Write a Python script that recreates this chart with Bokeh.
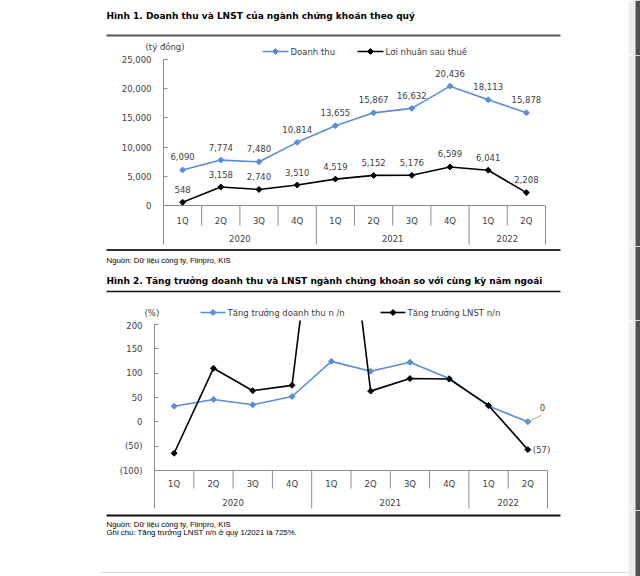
import math
from bokeh.plotting import figure
from bokeh.models import (Range1d, FixedTicker, NumeralTickFormatter, LabelSet, ColumnDataSource)
from bokeh.layouts import column
from bokeh.embed import file_html
from bokeh.resources import INLINE
from bokeh.core.properties import value

# ---------------- data ----------------
quarters = ["1Q", "2Q", "3Q", "4Q", "1Q", "2Q", "3Q", "4Q", "1Q", "2Q"]
years = ["2020", "2021", "2022"]
quarters_per_year = [4, 4, 2]
revenue = [6090, 7774, 7480, 10814, 13655, 15867, 16632, 20436, 18113, 15878]
profit = [548, 3158, 2740, 3510, 4519, 5152, 5176, 6599, 6041, 2208]
revenue_growth = [32, 46, 35, 52, 124.2, 104.1, 122.4, 89.0, 32.6, 0.07]
profit_growth = [-64.5, 110, 64, 75, 725, 63.1, 88.9, 88.0, 33.7, -57.1]
y1_ticks = [0, 5000, 10000, 15000, 20000, 25000]
y2_ticks = [-100, -50, 0, 50, 100, 150, 200]

title1 = "Hình 1. Doanh thu và LNST của ngành chứng khoán theo quý"
title2 = "Hình 2. Tăng trưởng doanh thu và LNST ngành chứng khoán so với cùng kỳ năm ngoái"
unit1 = "(tỷ đồng)"
unit2 = "(%)"
legend1 = ["Doanh thu", "Lợi nhuận sau thuế"]
legend2 = ["Tăng trưởng doanh thu n /n", "Tăng trưởng LNST n/n"]
source_note = "Nguồn: Dữ liệu công ty, Fiinpro, KIS"
growth_note = "Ghi chú: Tăng trưởng LNST n/n ở quý 1/2021 là {:.0f}%."

# ---------------- styles ----------------
BLUE = "#5B8CD4"
BLACK = "#000000"
AXIS = "#8C8C8C"
TXT = "#404040"
FONT = "DejaVu Sans"
NOTE_FONT = "Liberation Sans"
FS = "8.5px"
NOTE_FS = "7.8px"
W = 640
X0 = 95          # common left edge of every plot frame
STRIP_L, STRIP_M = 628, 635
STRIP_COLORS = ["#EDEDED", "#505050"]


def fmt_paren(v):
    r = int(round(v))
    return "({:,})".format(-r) if r < 0 else "{:,}".format(r)


def base_fig(height, x_range, y_range):
    p = figure(width=W, height=height, output_backend="svg", toolbar_location=None, tools="",
               x_axis_location=None, y_axis_location=None,
               min_border_left=X0, min_border_right=0, min_border_top=0, min_border_bottom=0,
               x_range=x_range, y_range=y_range)
    p.outline_line_color = None
    p.grid.visible = False
    p.background_fill_color = "white"
    p.border_fill_color = "white"
    return p


def deco_fig(top, bottom):
    p = base_fig(bottom - top, Range1d(X0, W), Range1d(bottom, top))
    p.quad(left=[STRIP_L, STRIP_M], right=[STRIP_M, W], top=[top, top], bottom=[bottom, bottom],
           fill_color=STRIP_COLORS, line_color=None)
    return p


def txt(p, x, y, text, font=FONT, size=FS, color=TXT, bold=False, align="left"):
    p.text(x=[x], y=[y], text=[text], text_align=align, text_baseline="middle",
           text_font=value(font), text_font_size=value(size), text_color=color,
           text_font_style="bold" if bold else "normal")


def rule(p, x0, x1, y, color, width):
    p.segment(x0=[x0], y0=[y], x1=[x1], y1=[y], line_color=color, line_width=width)


def marker(p, xs, ys, color):
    return p.scatter(xs, ys, marker="square", angle=math.pi / 4, size=4.2,
                     fill_color=color, line_color=color)


def legend_key(p, x0, x1, y, color, text):
    p.segment(x0=[x0], y0=[y], x1=[x1], y1=[y], line_color=color, line_width=1.6)
    marker(p, [(x0 + x1) / 2], [y], color)
    txt(p, x1 + 2, y, text)


def chart_fig(top, bottom, L, R_cat, top_y, base_y, base_val, top_val, ticks, axis_bottom_y):
    n = len(quarters)
    ppu = (base_y - top_y) / (top_val - base_val)
    cw = (R_cat - L) / n

    def val_at(Y):
        return base_val + (base_y - Y) / ppu

    def x_at(X):
        return (X - L) / cw

    p = base_fig(bottom - top, Range1d(x_at(X0), x_at(W)), Range1d(val_at(bottom), val_at(top)))
    from bokeh.models import LinearAxis
    ax = LinearAxis(ticker=FixedTicker(ticks=ticks))
    p.add_layout(ax, "left")
    ax.fixed_location = 0
    ax.bounds = (val_at(axis_bottom_y), top_val)
    ax.axis_line_color = AXIS
    ax.major_tick_line_color = AXIS
    ax.major_tick_in = 4
    ax.major_tick_out = 0
    ax.minor_tick_in = 0
    ax.minor_tick_out = 0
    ax.major_label_text_font = FONT
    ax.major_label_text_font_size = FS
    ax.major_label_text_color = TXT
    ax.major_label_standoff = 12
    # category axis baseline
    p.segment(x0=[0], y0=[base_val], x1=[n], y1=[base_val], line_color=AXIS, line_width=1)
    # page edge strip
    p.quad(left=[x_at(STRIP_L), x_at(STRIP_M)], right=[x_at(STRIP_M), x_at(W)],
           top=[val_at(top)] * 2, bottom=[val_at(bottom)] * 2,
           fill_color=STRIP_COLORS, line_color=None)
    return p, ax, n


def add_category_axis(p, n, base_val, short_len, tall_len, q_off, y_off):
    centers = [i + 0.5 for i in range(n)]
    bounds = []
    year_centers = []
    acc = 0
    for s in quarters_per_year:
        year_centers.append(acc + s / 2)
        acc += s
        bounds.append(acc)
    sep_x = list(range(1, n + 1))
    sep_len = [tall_len if b in bounds else short_len for b in sep_x]
    p.ray(x=sep_x, y=[base_val] * len(sep_x), length=sep_len, length_units="screen",
          angle=-math.pi / 2, line_color=AXIS, line_width=1)
    p.text(x=centers, y=[base_val] * n, text=quarters, y_offset=q_off,
           text_align="center", text_baseline="middle",
           text_font=value(FONT), text_font_size=value(FS), text_color=TXT)
    p.text(x=year_centers, y=[base_val] * len(years), text=years, y_offset=y_off,
           text_align="center", text_baseline="middle",
           text_font=value(FONT), text_font_size=value(FS), text_color=TXT)
    return centers


def series(p, xs, ys, color):
    p.line(xs, ys, line_color=color, line_width=1.6)
    marker(p, xs, ys, color)


# ---------------- header 1 ----------------
h1 = deco_fig(0, 55)
txt(h1, 106, 15.5, title1, size="9px", color="#000000", bold=True)
rule(h1, 106, 560, 35, "#555555", 2)
txt(h1, 145, 46, unit1)
legend_key(h1, 262, 288, 51, BLUE, legend1[0])
legend_key(h1, 357, 383, 51, BLACK, legend1[1])

# ---------------- chart 1 ----------------
p1, ax1, n = chart_fig(55, 246, 163, 545, 59, 205, 0, 25000, y1_ticks, 244)
ax1.formatter = NumeralTickFormatter(format="0,0")
xs = add_category_axis(p1, n, 0, 20, 39, 15, 33)
series(p1, xs, revenue, BLUE)
series(p1, xs, profit, BLACK)
src1 = ColumnDataSource(dict(x=xs, rev=revenue, pro=profit,
                             rev_t=[fmt_paren(v) for v in revenue],
                             pro_t=[fmt_paren(v) for v in profit]))
for col, tcol in (("rev", "rev_t"), ("pro", "pro_t")):
    p1.add_layout(LabelSet(x="x", y=col, text=tcol, source=src1, y_offset=13,
                           text_align="center", text_baseline="middle",
                           text_font=value(FONT), text_font_size=value(FS), text_color=value(TXT)))

# ---------------- footer 1 + header 2 ----------------
m = deco_fig(246, 320)
rule(m, 106, 560, 249.5, "#333333", 2)
txt(m, 106, 260, source_note, font=NOTE_FONT, size=NOTE_FS, color="#000000")
txt(m, 106, 280.5, title2, size="9px", color="#000000", bold=True)
rule(m, 106, 560, 291, "#111111", 1.5)
txt(m, 144, 312, unit2)
legend_key(m, 200, 225, 312, BLUE, legend2[0])
legend_key(m, 380, 405, 312, BLACK, legend2[1])

# ---------------- chart 2 ----------------
p2, ax2, n = chart_fig(320, 510, 154, 547, 324, 470, -100, 200, y2_ticks, 508)
ax2.major_label_overrides = {t: fmt_paren(t) for t in y2_ticks}
xs2 = add_category_axis(p2, n, -100, 18, 38, 13.5, 31.5)
series(p2, xs2, revenue_growth, BLUE)
series(p2, xs2, profit_growth, BLACK)
p2.ray(x=[xs2[-1]], y=[revenue_growth[-1]], length=15, length_units="screen",
       angle=0.45, line_color="#A6A6A6", line_width=1)
src2a = ColumnDataSource(dict(x=[xs2[-1]], y=[revenue_growth[-1]], t=[fmt_paren(revenue_growth[-1])]))
src2b = ColumnDataSource(dict(x=[xs2[-1]], y=[profit_growth[-1]], t=[fmt_paren(profit_growth[-1])]))
p2.add_layout(LabelSet(x="x", y="y", text="t", source=src2a, x_offset=14.5, y_offset=14,
                       text_align="center", text_baseline="middle",
                       text_font=value(FONT), text_font_size=value(FS), text_color=value(TXT)))
p2.add_layout(LabelSet(x="x", y="y", text="t", source=src2b, x_offset=5, y_offset=0,
                       text_align="left", text_baseline="middle",
                       text_font=value(FONT), text_font_size=value(FS), text_color=value(TXT)))

# ---------------- footer 2 ----------------
f2 = deco_fig(510, 576)
rule(f2, 106, 560, 515, "#111111", 2)
txt(f2, 106, 523.5, source_note, font=NOTE_FONT, size=NOTE_FS, color="#000000")
txt(f2, 106, 532, growth_note.format(profit_growth[4]), font=NOTE_FONT, size=NOTE_FS, color="#000000")
rule(f2, 100, STRIP_L, 572, "#DADADA", 1)

layout = column(h1, p1, m, p2, f2, spacing=0)
open("out.html", "w").write(file_html(layout, INLINE))
